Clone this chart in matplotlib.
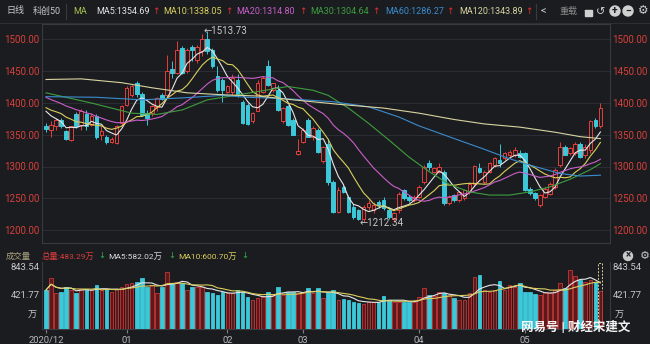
import numpy as np
import pandas as pd
import matplotlib
matplotlib.use("Agg")
import matplotlib.pyplot as plt
from matplotlib.patches import Rectangle, Circle, Arc

plt.rcParams['font.family'] = ['Roboto', 'DejaVu Sans', 'Noto Sans CJK SC']

W, H = 650, 344
BG = "#1b1c20"
GRID = "#2c2d33"
FRAME = "#3a3b41"
UP = "#e5403b"
DOWN = "#3cc8d8"
TXT = "#c8c8c8"

# ---- 科创50 daily candles, 2020/12 .. 2021/05 (111 sessions)
opens = [1364, 1358, 1363, 1373, 1356, 1342, 1382, 1366, 1382, 1366,
         1379, 1350, 1347, 1339, 1337, 1368, 1397, 1413, 1431, 1414,
         1384, 1384, 1393, 1413, 1413, 1453, 1447, 1487, 1450, 1488,
         1468, 1482, 1500, 1484, 1442, 1437, 1418, 1418, 1437, 1402,
         1397, 1371, 1388, 1418, 1459, 1421, 1421, 1371, 1395, 1373,
         1319, 1339, 1373, 1347, 1358, 1308, 1336, 1276, 1229, 1268,
         1252, 1236, 1231, 1218, 1236, 1231, 1244, 1247, 1231, 1218,
         1231, 1263, 1252, 1247, 1252, 1276, 1305, 1292, 1292, 1292,
         1242, 1255, 1247, 1250, 1260, 1273, 1297, 1276, 1292, 1302,
         1310, 1313, 1318, 1318, 1321, 1321, 1265, 1258, 1239, 1252,
         1257, 1268, 1302, 1331, 1321, 1321, 1336, 1318, 1326, 1373,
         1363]
highs = [1368, 1371, 1376, 1376, 1358, 1364, 1386, 1391, 1389, 1384,
         1382, 1363, 1349, 1346, 1366, 1397, 1426, 1428, 1434, 1418,
         1389, 1397, 1410, 1415, 1476, 1466, 1497, 1489, 1487, 1492,
         1492, 1508, 1513.73, 1487, 1458, 1439, 1428, 1445, 1445, 1405,
         1400, 1386, 1437, 1442, 1467, 1431, 1429, 1393, 1397, 1376,
         1344, 1360, 1376, 1363, 1360, 1333, 1344, 1279, 1268, 1271,
         1255, 1241, 1233, 1239, 1247, 1244, 1247, 1252, 1236, 1228,
         1260, 1265, 1255, 1255, 1271, 1302, 1310, 1300, 1305, 1294,
         1255, 1257, 1262, 1265, 1276, 1302, 1305, 1294, 1307, 1315,
         1336, 1323, 1326, 1331, 1326, 1323, 1268, 1260, 1257, 1268,
         1276, 1297, 1339, 1334, 1331, 1339, 1339, 1336, 1373, 1376,
         1400]
lows = [1355, 1347, 1358, 1360, 1342, 1340, 1360, 1358, 1358, 1363,
        1344, 1342, 1336, 1337, 1335, 1366, 1395, 1410, 1410, 1379,
        1366, 1380, 1387, 1405, 1410, 1439, 1445, 1445, 1447, 1466,
        1463, 1474, 1477, 1455, 1418, 1402, 1416, 1413, 1410, 1367,
        1366, 1369, 1387, 1416, 1426, 1418, 1387, 1369, 1364, 1349,
        1318, 1337, 1346, 1342, 1321, 1305, 1271, 1226, 1226, 1258,
        1226, 1218, 1215, 1212.34, 1231, 1226, 1234, 1231, 1218, 1213,
        1226, 1247, 1244, 1244, 1250, 1273, 1294, 1289, 1289, 1239,
        1239, 1244, 1244, 1248, 1257, 1270, 1289, 1273, 1289, 1300,
        1300, 1310, 1313, 1315, 1313, 1262, 1255, 1247, 1236, 1250,
        1255, 1265, 1300, 1318, 1318, 1318, 1313, 1313, 1321, 1360,
        1360]
closes = [1359, 1366, 1373, 1363, 1344, 1363, 1363, 1388, 1363, 1379,
          1347, 1356, 1338, 1344, 1363, 1395, 1424, 1426, 1414, 1381,
          1376, 1395, 1408, 1407, 1450, 1447, 1484, 1447, 1484, 1483,
          1488, 1500, 1482, 1458, 1421, 1421, 1426, 1439, 1412, 1368,
          1367, 1384, 1431, 1439, 1429, 1431, 1389, 1392, 1366, 1350,
          1324, 1358, 1347, 1360, 1323, 1331, 1276, 1229, 1263, 1260,
          1229, 1221, 1217, 1236, 1242, 1239, 1239, 1234, 1221, 1226,
          1257, 1250, 1247, 1252, 1268, 1300, 1300, 1297, 1300, 1242,
          1252, 1247, 1260, 1263, 1273, 1300, 1292, 1292, 1305, 1313,
          1305, 1321, 1323, 1326, 1315, 1263, 1258, 1250, 1255, 1265,
          1273, 1294, 1331, 1318, 1329, 1336, 1315, 1331, 1371, 1363,
          1392]
# closes of the 19 sessions before the window (needed for MA5/10/20)
prev_closes = [1440, 1432, 1428, 1420, 1418, 1425, 1430, 1422, 1415, 1424,
               1405, 1398, 1392, 1400, 1396, 1402, 1396, 1385, 1393]

# volume, 万手
volumes = [498, 647, 456, 477, 541, 498, 464, 507, 507, 498,
           562, 498, 507, 477, 507, 541, 571, 584, 605, 647,
           541, 562, 456, 541, 733, 584, 605, 584, 498, 532,
           541, 541, 477, 464, 435, 477, 456, 456, 498, 477,
           413, 371, 392, 413, 477, 435, 541, 435, 477, 477,
           456, 477, 520, 456, 520, 392, 477, 498, 371, 379,
           371, 349, 336, 320, 349, 349, 349, 422, 371, 349,
           349, 349, 349, 349, 413, 520, 435, 422, 477, 456,
           435, 392, 371, 371, 456, 669, 690, 498, 477, 498,
           618, 498, 562, 541, 592, 477, 477, 447, 435, 477,
           464, 498, 592, 520, 754, 677, 626, 605, 626, 605,
           483.29]
vol_estimate = 843.54

# slow moving averages (session index -> value)
ma30_i = [0, 9, 17, 22, 27, 32, 36, 42, 48, 53, 56, 60, 64, 68, 72, 76, 80, 84, 88, 92, 96, 100, 104, 108, 110]
ma30_v = [1416, 1400, 1384, 1382, 1389, 1405, 1410, 1418, 1426, 1420, 1412, 1392, 1368, 1342, 1315, 1292,
          1272, 1260, 1255, 1255, 1260, 1268, 1280, 1295, 1304.64]
ma60_i = [0, 10, 19, 27, 35, 40, 47, 57, 64, 70, 74, 81, 87, 91, 94, 97, 102, 106, 110]
ma60_v = [1410, 1409, 1405, 1408, 1412, 1409, 1407, 1402, 1394, 1378, 1364, 1344, 1327, 1315, 1307, 1300,
          1289, 1285, 1286.27]
ma120_i = [0, 7, 15, 21, 28, 35, 42, 49, 58, 67, 74, 81, 87, 94, 101, 106, 110]
ma120_v = [1437, 1438, 1432, 1424, 1416, 1413, 1411, 1405, 1398, 1392, 1384, 1374, 1367, 1362, 1354, 1347, 1343.89]

month_pos = [0, 16, 36, 51, 74, 95]
month_lbl = ["2020/12", "01", "02", "03", "04", "05"]
price_ticks = [1200, 1250, 1300, 1350, 1400, 1450, 1500]

MA_COLORS = {"MA5": "#e6e6e6", "MA10": "#d9cf5c", "MA20": "#c95fc9",
             "MA30": "#3e9e3e", "MA60": "#3a8cd0", "MA120": "#d8d4a0"}

# ---------------------------------------------------------------
fig = plt.figure(figsize=(W / 100, H / 100), dpi=100, facecolor=BG)


def px_axes(l, t, r, b):
    return fig.add_axes([l / W, 1 - b / H, (r - l) / W, (b - t) / H])


X0, DX = 46, 5.04          # pixel x of first session, pixels per session
xl = ((42 - X0) / DX, (610 - X0) / DX)


def py(y):                 # pixel y -> price
    return 1500 - (y - 39.5) * 50 / 31.75


ax = px_axes(42, 24, 610, 243)
axv = px_axes(42, 262, 610, 329)

for a in (ax, axv):
    a.set_facecolor(BG)
    for s in a.spines.values():
        s.set_color(FRAME)
        s.set_linewidth(0.8)
    a.set_xlim(*xl)

idx = np.arange(len(closes))
o, h, l, c = map(np.asarray, (opens, highs, lows, closes))
up = c >= o
col = np.where(up, UP, DOWN)

ax.set_ylim(py(243), py(24))
ax.set_yticks(price_ticks, [f"{v:.2f}" for v in price_ticks])
ax.yaxis.grid(True, color=GRID, lw=0.8)
ax.set_axisbelow(True)
ax.set_xticks([])
ax.tick_params(axis="y", length=0, labelsize=7, labelcolor="#d8403a",
               labelleft=True, labelright=True, pad=1.6)

# candles
ax.vlines(idx, l, h, colors=col, lw=0.7, zorder=2)
body_h = np.maximum(np.abs(c - o), 0.8)
ax.bar(idx, body_h, bottom=np.minimum(o, c), width=0.72,
       color=np.where(up, BG, DOWN), edgecolor=col, linewidth=0.7, zorder=3)

# moving averages
full = pd.Series(list(prev_closes) + list(closes), dtype=float)
n0 = len(prev_closes)
for name, n in (("MA5", 5), ("MA10", 10), ("MA20", 20)):
    ma = full.rolling(n).mean().to_numpy()[n0:]
    ax.plot(idx, ma, color=MA_COLORS[name], lw=0.8, zorder=4)
ax.plot(ma30_i, ma30_v, color=MA_COLORS["MA30"], lw=0.8, zorder=4)
ax.plot(ma60_i, ma60_v, color=MA_COLORS["MA60"], lw=0.8, zorder=4)
ax.plot(ma120_i, ma120_v, color=MA_COLORS["MA120"], lw=0.8, zorder=4)

# high / low markers
i_hi = int(np.argmax(h))
i_lo = int(np.argmin(l))
ax.text(i_hi - 0.8, h[i_hi] - 1, f"←{h[i_hi]:.2f}", color=TXT, fontsize=7,
        ha="left", va="center", zorder=5)
ax.text(i_lo - 0.7, l[i_lo] - 2, f"←{l[i_lo]:.2f}", color=TXT, fontsize=7,
        ha="left", va="center", zorder=5)

# volume panel
v = np.asarray(volumes, dtype=float)
vmax = vol_estimate
axv.set_ylim(0, vmax * 67 / 66)
axv.set_yticks([])
axv.spines["top"].set_visible(False)
axv.bar(idx[-1], vol_estimate, width=0.8, fill=False, edgecolor="#d8d0a0",
        linestyle=(0, (2, 1.5)), linewidth=0.7, zorder=2)
axv.bar(idx, v, width=0.72, color=np.where(up, "#5a1a1c", DOWN),
        edgecolor=np.where(up, "#c83636", DOWN), linewidth=0.6, zorder=3)
vs = pd.Series(v)
axv.plot(idx, vs.rolling(5, min_periods=1).mean(), color="#e6e6e6", lw=0.8, zorder=4)
axv.plot(idx, vs.rolling(10, min_periods=1).mean(), color="#d9cf5c", lw=0.8, zorder=4)
axv.set_xticks(month_pos, month_lbl)
axv.tick_params(axis="x", length=3, color="#808080", labelsize=6.8,
                labelcolor="#b8b8b8", pad=2)

yt = axv.get_yaxis_transform()
for xa, ha in ((-0.004, "right"), (1.005, "left")):
    axv.text(xa, vmax, f"{vmax:.2f}", transform=yt, ha=ha, va="top",
             fontsize=6.8, color=TXT)
    axv.text(xa, vmax / 2, f"{vmax / 2:.2f}", transform=yt, ha=ha, va="center",
             fontsize=6.8, color=TXT)
    axv.text(xa - (0.005 if ha == "right" else -0.003), vmax * 0.14, "万", transform=yt,
             ha=ha, va="bottom", fontsize=6.5, color=TXT)

# overlay in pixel coordinates for header bars and icons
ov = fig.add_axes([0, 0, 1, 1])
ov.set_xlim(0, W)
ov.set_ylim(H, 0)
ov.axis("off")
ov.patch.set_alpha(0)


def t(x, y, s, color, size=6.5, **kw):
    ov.text(x, y, s, color=color, fontsize=size, ha=kw.pop("ha", "left"),
            va=kw.pop("va", "center"), **kw)


ov.plot([0, W], [22.5, 22.5], color="#2e2f35", lw=0.8)
ov.plot([66, 66], [4, 19], color="#3a3b41", lw=0.8)
ov.plot([536, 536], [4, 19], color="#3a3b41", lw=0.8)

t(6, 11, "日线", TXT)
t(33, 11, "科创50", TXT)
t(73, 11, "MA", "#a6c24e")
header = [(96, "MA5:1354.69", 152), (163, "MA10:1338.05", 225),
          (236, "MA20:1314.80", 299), (310, "MA30:1304.64", 372),
          (385, "MA60:1286.27", 446), (459, "MA120:1343.89", 525)]
for (x, s, xa), name in zip(header, MA_COLORS):
    t(x, 11, s, MA_COLORS[name])
    t(xa, 11, "↑", "#e03030")
t(541, 11, "<", TXT, size=8)
t(560, 11, "重载", "#8a8a8a", size=6.5)
# lock
ov.add_patch(Rectangle((584.5, 10), 7, 5.5, color="#d0d0d0"))
ov.add_patch(Arc((588, 10), 5, 6, theta1=0, theta2=180, color="#d0d0d0", lw=1.1))
t(601, 11.5, "↺", "#d0d0d0", size=8, ha="center")
for xc, sym in ((615, "+"), (628, "−")):
    ov.add_patch(Circle((xc, 11), 5, color="#d0d0d0"))
    t(xc, 10.6, sym, BG, size=7.5, ha="center", weight="bold")
t(643, 11, "⚙", "#d0d0d0", size=8.5, ha="center")

# volume header
t(6, 256, "成交量", "#a9a27e", size=6)
t(42, 256, "总量:483.29万", "#d83c3c", size=6)
t(98, 256, "↓", "#2db84a", size=6)
t(108, 256, "MA5:582.02万", "#d8d8d8", size=6)
t(168, 256, "↓", "#2db84a", size=6)
t(178, 256, "MA10:600.70万", "#d9cf5c", size=6)
t(241, 256, "↓", "#2db84a", size=6)
ov.add_patch(Circle((628, 256), 4.5, color="#c8c8c8"))
t(628, 255.6, "×", BG, size=7, ha="center", weight="bold")
t(645, 256, "⚙", "#c8c8c8", size=8, ha="center")

# watermark
t(521, 327.5, "网易号 | 财经宋建文", "white", size=9, weight="bold", alpha=0.95)

fig.savefig("out.png", dpi=100, facecolor=BG)
